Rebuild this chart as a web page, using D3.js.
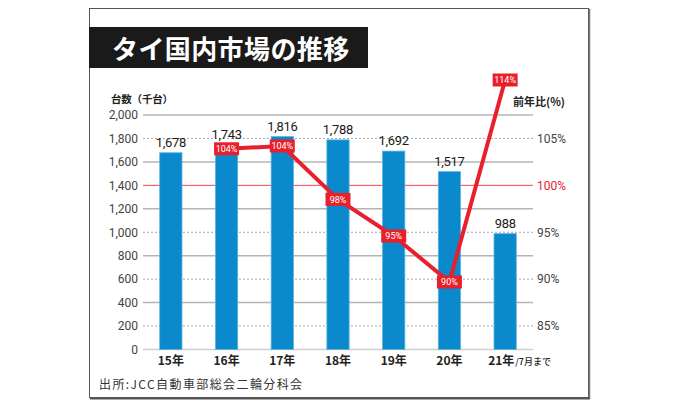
<!DOCTYPE html>
<html><head><meta charset="utf-8">
<script src="https://cdn.jsdelivr.net/npm/d3@7/dist/d3.min.js"></script>
<style>
html,body{margin:0;padding:0;background:#fff;}
svg{display:block;}
text{font-family:Roboto,"Noto Sans CJK JP",sans-serif;}
.jp{font-family:"Noto Sans CJK JP",sans-serif;}
</style></head>
<body>
<script>
// ---- data ----
const categories = ["15年","16年","17年","18年","19年","20年","21年"];
const units = [1678, 1743, 1816, 1788, 1692, 1517, 988];          // 台数(千台)
const yoyCategories = ["16年","17年","18年","19年","20年","21年"];
const yoy = [103.9, 104.2, 98.5, 94.6, 89.7, 114];                 // 前年比(%)
const yoyLabels = ["104%","104%","98%","95%","90%","114%"];
const leftTicks = [0,200,400,600,800,1000,1200,1400,1600,1800,2000];
const rightTicks = [85,90,95,100,105];
const title = "タイ国内市場の推移";
const source = "出所:JCC自動車部総会二輪分科会";

const W = 680, H = 406;
const svg = d3.select("body").append("svg").attr("width", W).attr("height", H);
svg.append("rect").attr("width", W).attr("height", H).attr("fill", "#fff");

// frame
svg.append("rect").attr("x", 89.5).attr("y", 8.5).attr("width", 499).attr("height", 389)
  .attr("fill", "none").attr("stroke", "#555").attr("stroke-width", 1);
svg.append("line").attr("x1", 589.5).attr("x2", 589.5).attr("y1", 9).attr("y2", 399).attr("stroke", "#777").attr("stroke-width", 1.5);
svg.append("line").attr("x1", 90).attr("x2", 590).attr("y1", 398.8).attr("y2", 398.8).attr("stroke", "#555").attr("stroke-width", 1.5);

// title band
svg.append("rect").attr("x", 89).attr("y", 27).attr("width", 279).attr("height", 41).attr("fill", "#1a1a1a");
svg.append("text").attr("class", "jp").attr("x", 112).attr("y", 58.5)
  .attr("fill", "#fff").attr("font-size", 26).attr("font-weight", 700).attr("letter-spacing", 0.4)
  .text(title);

// scales
const x = d3.scaleBand().domain(categories).range([143, 533]).paddingInner(0.6).paddingOuter(0.3);
const y = d3.scaleLinear().domain([0, 2000]).range([349.5, 115]);
const yR = d3.scaleLinear().domain([85, 105]).range([y(200), y(1800)]);
const capY = y(2000) - 35;
const py = v => Math.max(yR(v), capY);
const cx = c => x(c) + x.bandwidth() / 2;

// gridlines
const grid = svg.append("g");
leftTicks.forEach(v => {
  const l = grid.append("line").attr("x1", 143).attr("x2", 533).attr("y1", y(v)).attr("y2", y(v));
  if (v === 0) l.attr("stroke", "#cfcfcf").attr("stroke-width", 1.5);
  else if (v === 1400) l.attr("stroke", "#f0444d").attr("stroke-width", 1);
  else if (v % 400 === 0) l.attr("stroke", "#b4b4b4").attr("stroke-width", 1.5);
  else l.attr("stroke", "#a8a8a8").attr("stroke-width", 1).attr("stroke-dasharray", "2,2");
});

// left axis
const ga = svg.append("g").attr("transform", "translate(143,0)")
  .call(d3.axisLeft(y).tickValues(leftTicks).tickSize(0).tickPadding(5).tickFormat(d3.format(",")));
ga.select(".domain").remove();
ga.selectAll("text").attr("font-size", 12).attr("fill", "#444").attr("font-family", "Roboto, sans-serif");

// right axis
const gr = svg.append("g").attr("transform", "translate(533,0)")
  .call(d3.axisRight(yR).tickValues(rightTicks).tickSize(0).tickPadding(4).tickFormat(d => d + "%"));
gr.select(".domain").remove();
gr.selectAll("text").attr("font-size", 12).attr("font-family", "Roboto, sans-serif")
  .attr("fill", d => d === 100 ? "#e8202c" : "#444");

// axis titles
svg.append("text").attr("class", "jp").attr("x", 111).attr("y", 102.5).attr("font-size", 10.5)
  .attr("font-weight", 700).attr("fill", "#222").attr("letter-spacing", -0.2).text("台数（千台）");
svg.append("text").attr("class", "jp").attr("x", 513).attr("y", 106).attr("font-size", 11)
  .attr("font-weight", 700).attr("fill", "#222").text("前年比(%)");

// bars
svg.append("g").selectAll("rect").data(units).join("rect")
  .attr("x", (d, i) => x(categories[i]))
  .attr("y", d => y(d))
  .attr("width", x.bandwidth())
  .attr("height", d => y(0) - y(d))
  .attr("fill", "#0a89cd").attr("stroke", "#5cb4e2").attr("stroke-width", 0.8);

// bar values
svg.append("g").selectAll("text").data(units).join("text")
  .attr("x", (d, i) => cx(categories[i]))
  .attr("y", d => y(d) - 6)
  .attr("text-anchor", "middle").attr("font-size", 13).attr("font-weight", 400)
  .attr("letter-spacing", -0.3).attr("fill", "#1a1a1a")
  .text(d => d3.format(",")(d));

// x labels
const xl = svg.append("g");
categories.forEach((c, i) => {
  if (i < categories.length - 1) {
    xl.append("text").attr("class", "jp").attr("x", cx(c)).attr("y", 365).attr("text-anchor", "middle")
      .attr("font-size", 12).attr("font-weight", 700).attr("fill", "#222").text(c);
  } else {
    const t = xl.append("text").attr("class", "jp").attr("x", cx(c) - 17).attr("y", 365)
      .attr("font-size", 12).attr("font-weight", 700).attr("fill", "#222");
    t.append("tspan").text(c);
    t.append("tspan").attr("font-size", 9).attr("font-weight", 500).attr("dx", 1).text("/7月まで");
  }
});

// yoy line
const line = d3.line().x((d, i) => cx(yoyCategories[i])).y(d => py(d));
svg.append("path").datum(yoy).attr("d", line).attr("fill", "none")
  .attr("stroke", "#e8202c").attr("stroke-width", 4).attr("stroke-linejoin", "round");

// yoy labels
const lg = svg.append("g").selectAll("g").data(yoy).join("g")
  .attr("transform", (d, i) => `translate(${cx(yoyCategories[i])},${py(d)})`);
lg.append("rect").attr("x", -12.5).attr("y", -6.5).attr("width", 25).attr("height", 13).attr("fill", "#e8202c");
lg.append("text").attr("text-anchor", "middle").attr("y", 3.3).attr("font-size", 9)
  .attr("fill", "#fff").attr("font-family", "Roboto, sans-serif")
  .text((d, i) => yoyLabels[i]);

// source
svg.append("text").attr("class", "jp").attr("x", 99).attr("y", 388.5).attr("font-size", 12)
  .attr("letter-spacing", 1.4).attr("fill", "#333").text(source);
</script>
</body></html>
